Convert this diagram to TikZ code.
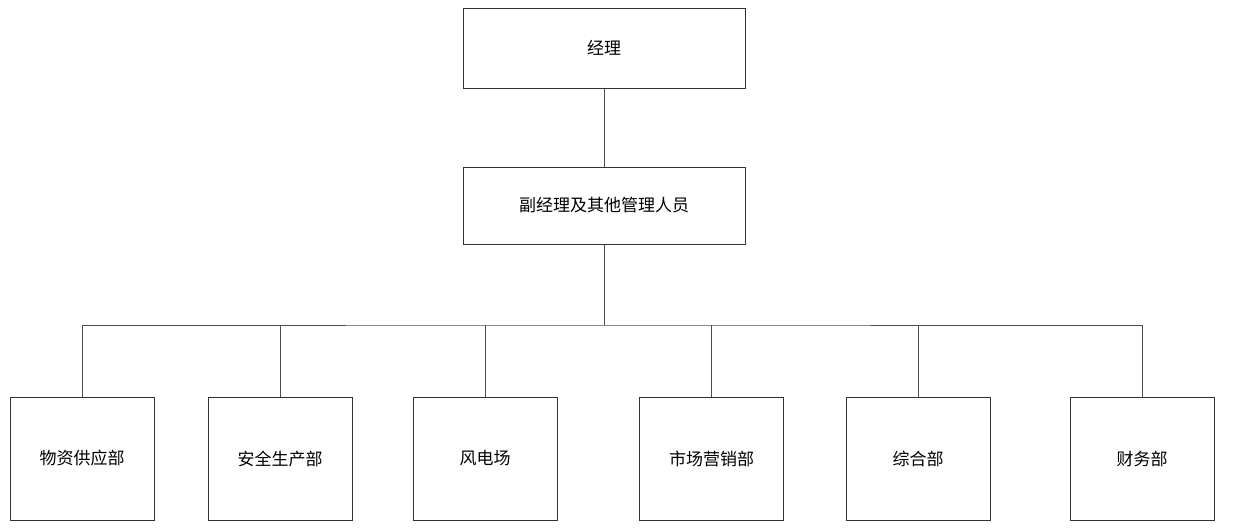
\documentclass[tikz,border=0pt]{standalone}
\usepackage{fontspec}
\newfontfamily\cjk{Noto Sans CJK SC}
\begin{document}
\begin{tikzpicture}[x=1pt,y=-1pt,
  box/.style={draw=black!80,line width=1pt,fill=white,inner sep=0pt,font=\cjk\fontsize{17}{20}\selectfont},
  ln/.style={draw=black!70,line width=1pt}]
\useasboundingbox (0,0) rectangle (1234,528);
\node[box,minimum width=282pt,minimum height=80pt] (a) at (604,48) {经理};
\node[box,minimum width=282pt,minimum height=77pt] (b) at (604,205.5) {副经理及其他管理人员};
\coordinate (j) at (604,325);
\foreach \n/\x/\t in {c1/82/物资供应部,c2/280/安全生产部,c3/485/风电场,c4/711.5/市场营销部,c5/918/综合部,c6/1142/财务部}{
  \node[box,minimum width=144pt,minimum height=123pt] (\n) at (\x,458.5) {\t};
}
\draw[ln] (a) -- (b);
\draw[ln] (b) -- (j);
\draw[ln] (c1.north) |- (j) -| (c6.north);
\foreach \n in {c2,c3,c4,c5}{ \draw[ln] (\n.north) -- (\n.north |- j); }
\end{tikzpicture}
\end{document}
